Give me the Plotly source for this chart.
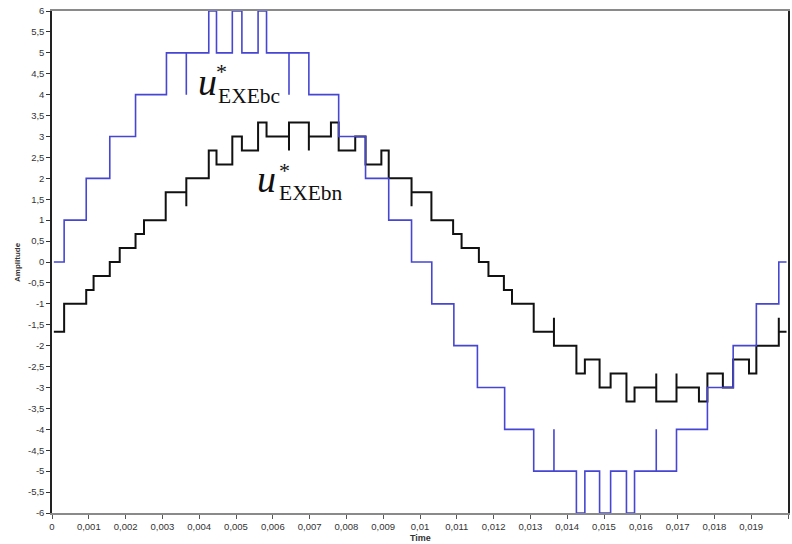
import plotly.graph_objects as go

# u*_EXEbc (blue) step waveform: transition times and levels (repeated time = narrow spike)
bc_time = [0.00005, 0.00033, 0.00093, 0.00157, 0.00227, 0.00311, 0.00365, 0.00365,
           0.00426, 0.00447, 0.00490, 0.00516, 0.00560, 0.00583, 0.00644, 0.00644,
           0.00698, 0.00779, 0.00852, 0.00915, 0.00977, 0.01032, 0.01092, 0.01156,
           0.01230, 0.01309, 0.01364, 0.01364, 0.01425, 0.01448, 0.01488, 0.01518,
           0.01561, 0.01583, 0.01642, 0.01642, 0.01697, 0.01781, 0.01851, 0.01914,
           0.01975, 0.01996]
bc_value = [0, 1, 2, 3, 4, 5, 4, 5,
            6, 5, 6, 5, 6, 5, 4, 5,
            4, 3, 2, 1, 0, -1, -2, -3,
            -4, -5, -4, -5, -6, -5, -6, -5,
            -6, -5, -4, -5, -4, -3, -2, -1,
            0, 0]

# u*_EXEbn (black) step waveform
bn_time = [0.00005, 0.00033, 0.00093, 0.00113, 0.00157, 0.00184, 0.00227, 0.00250,
           0.00309, 0.00365, 0.00365, 0.00426, 0.00447, 0.00490, 0.00516, 0.00560,
           0.00583, 0.00644, 0.00644, 0.00698, 0.00698, 0.00758, 0.00779, 0.00824,
           0.00852, 0.00895, 0.00915, 0.00977, 0.00977, 0.01031, 0.01090, 0.01113,
           0.01160, 0.01186, 0.01228, 0.01250, 0.01309, 0.01364, 0.01364, 0.01425,
           0.01448, 0.01488, 0.01518, 0.01561, 0.01583, 0.01642, 0.01642, 0.01697,
           0.01697, 0.01758, 0.01781, 0.01823, 0.01851, 0.01894, 0.01914, 0.01975,
           0.01975, 0.01996]
bn_value = [-1.667, -1.0, -0.667, -0.333, 0.0, 0.333, 0.667, 1.0,
            1.667, 1.333, 2.0, 2.667, 2.333, 3.0, 2.667, 3.333,
            3.0, 2.667, 3.333, 2.667, 3.0, 3.333, 2.667, 3.0,
            2.333, 2.667, 2.0, 1.333, 1.667, 1.0, 0.667, 0.333,
            0.0, -0.333, -0.667, -1.0, -1.667, -1.333, -2.0, -2.667,
            -2.333, -3.0, -2.667, -3.333, -3.0, -2.667, -3.333, -2.667,
            -3.0, -3.333, -2.667, -3.0, -2.333, -2.667, -2.0, -1.333,
            -1.667, -1.667]

x_tick_values = [0, 0.001, 0.002, 0.003, 0.004, 0.005, 0.006, 0.007, 0.008, 0.009, 0.01,
                 0.011, 0.012, 0.013, 0.014, 0.015, 0.016, 0.017, 0.018, 0.019, 0.02]
x_tick_labels = ["0", "0,001", "0,002", "0,003", "0,004", "0,005", "0,006", "0,007",
                 "0,008", "0,009", "0,01", "0,011", "0,012", "0,013", "0,014", "0,015",
                 "0,016", "0,017", "0,018", "0,019", "0,02"]
y_tick_values = [-6, -5.5, -5, -4.5, -4, -3.5, -3, -2.5, -2, -1.5, -1, -0.5, 0,
                 0.5, 1, 1.5, 2, 2.5, 3, 3.5, 4, 4.5, 5, 5.5, 6]
y_tick_labels = ["-6", "-5,5", "-5", "-4,5", "-4", "-3,5", "-3", "-2,5", "-2", "-1,5",
                 "-1", "-0,5", "0", "0,5", "1", "1,5", "2", "2,5", "3", "3,5", "4",
                 "4,5", "5", "5,5", "6"]

fig = go.Figure()
fig.add_trace(go.Scatter(x=bn_time, y=bn_value, mode="lines", line_shape="hv",
                         line=dict(color="#111111", width=2), name="u*EXEbn",
                         showlegend=False))
fig.add_trace(go.Scatter(x=bc_time, y=bc_value, mode="lines", line_shape="hv",
                         line=dict(color="#4646d2", width=1.6), name="u*EXEbc",
                         showlegend=False))

serif = "Liberation Serif"
def label(x, y, text, size, italic=False, xanchor="left"):
    fig.add_annotation(x=x, y=y, xref="x", yref="y", text=text, showarrow=False,
                       xanchor=xanchor, yanchor="middle",
                       font=dict(family=serif, size=size, color="#111111",
                                 style="italic" if italic else "normal"))

# u*_EXEbc label
label(0.00391, 4.30, "u", 38, italic=True)
label(0.00446, 3.98, "EXEbc", 21.5)
label(0.00460, 4.55, "*", 22, xanchor="center")
# u*_EXEbn label
label(0.00552, 1.98, "u", 38, italic=True)
label(0.00611, 1.66, "EXEbn", 21.5)
label(0.00631, 2.19, "*", 22, xanchor="center")

# axis titles
title_font = dict(family="Liberation Sans", size=9, color="#333333")
fig.add_annotation(x=0.5, y=0, xref="paper", yref="paper", yshift=-25,
                   text="<b>Time</b>", showarrow=False, xanchor="center",
                   yanchor="middle", font=title_font)
fig.add_annotation(x=0, y=0.5, xref="paper", yref="paper", xshift=-35,
                   text="<b>Amplitude</b>", showarrow=False, textangle=-90,
                   xanchor="center", yanchor="middle",
                   font=dict(family="Liberation Sans", size=8, color="#333333"))

tick_font = dict(family="Liberation Sans", size=9.5, color="#333333")
fig.update_xaxes(range=[0, 0.02], tickvals=x_tick_values, ticktext=x_tick_labels,
                 ticks="outside", ticklen=4, tickcolor="#555555", tickwidth=1,
                 showline=True, linecolor="#8a8a8a", linewidth=2, mirror=True,
                 showgrid=False, zeroline=False, tickfont=tick_font, automargin=False)
fig.update_yaxes(range=[-6, 6], tickvals=y_tick_values, ticktext=y_tick_labels,
                 ticks="outside", ticklen=4, tickcolor="#333333", tickwidth=1,
                 showline=True, linecolor="#222222", linewidth=1.5, mirror=True,
                 showgrid=False, zeroline=False, tickfont=tick_font, automargin=False)
fig.update_layout(width=792, height=544, margin=dict(l=52, r=4, t=11, b=31),
                  plot_bgcolor="white", paper_bgcolor="white", showlegend=False)

# remove the default page margin so the figure sits at the window's top-left corner
fig.write_html("out.html", config={"displayModeBar": False},
               post_script="document.body.style.margin='0';document.body.style.overflow='hidden';")
